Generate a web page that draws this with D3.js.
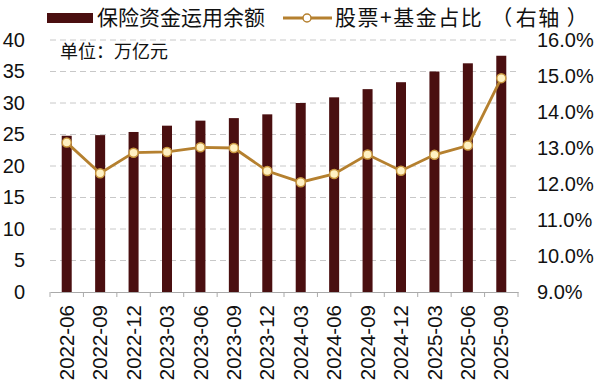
<!DOCTYPE html>
<html>
<head>
<meta charset="utf-8">
<script src="https://cdn.jsdelivr.net/npm/d3@7"></script>
<style>
  body { margin: 0; background: #fff; }
  svg text { font-family: "Liberation Sans", Arial, sans-serif; fill: #111; }
  svg text.cjk { font-family: "Noto Sans CJK SC", sans-serif; }
</style>
</head>
<body>
<svg id="chart" width="600" height="385"></svg>
<script>
// quarters shown on the x axis
var quarters = ["2022-06", "2022-09", "2022-12", "2023-03", "2023-06", "2023-09", "2023-12",
    "2024-03", "2024-06", "2024-09", "2024-12", "2025-03", "2025-06", "2025-09"];
// 保险资金运用余额, 万亿元
var fundBalance = [24.8, 24.9, 25.4, 26.4, 27.2, 27.6, 28.2, 30.0, 30.9, 32.2, 33.3, 35.0, 36.3, 37.5];
// 股票+基金占比, %
var equityShare = [13.15, 12.3, 12.87, 12.89, 13.02, 13.0, 12.36, 12.05, 12.28, 12.82, 12.37, 12.81, 13.07, 14.94];
var leftTicks = [0, 5, 10, 15, 20, 25, 30, 35, 40];
var rightTicks = [9, 10, 11, 12, 13, 14, 15, 16];

var svg = d3.select("#chart");
var plotLeft = 50, plotRight = 518, plotTop = 40, plotBottom = 292;

var x = d3.scaleBand().domain(quarters).range([plotLeft, plotRight]);
var y = d3.scaleLinear().domain([0, 40]).range([plotBottom, plotTop]);
var y2 = d3.scaleLinear().domain([9, 16]).range([plotBottom, plotTop]);

// dashed gridlines
svg.append("g").selectAll("line")
    .data(leftTicks.filter(function (d) { return d > 0; }))
    .enter().append("line")
    .attr("x1", plotLeft).attr("x2", plotRight)
    .attr("y1", function (d) { return y(d); })
    .attr("y2", function (d) { return y(d); })
    .attr("stroke", "#c8c8c8").attr("stroke-width", 1)
    .attr("stroke-dasharray", "6,4");

// left axis labels
var yAxis = d3.axisLeft(y).tickValues(leftTicks).tickSize(0).tickPadding(0);
var gy = svg.append("g").attr("transform", "translate(25,0)").call(yAxis);
gy.select(".domain").remove();
gy.selectAll("text").style("font-size", "20px").attr("fill", "#111");

// right axis labels
var y2Axis = d3.axisRight(y2).tickValues(rightTicks).tickSize(0).tickPadding(0)
    .tickFormat(function (d) { return d.toFixed(1) + "%"; });
var gy2 = svg.append("g").attr("transform", "translate(537,0)").call(y2Axis);
gy2.select(".domain").remove();
gy2.selectAll("text").style("font-size", "20px").attr("fill", "#111");

// bars
svg.append("g").selectAll("rect")
    .data(fundBalance)
    .enter().append("rect")
    .attr("x", function (d, i) { return x(quarters[i]) + x.bandwidth() / 2 - 5; })
    .attr("width", 10)
    .attr("y", function (d) { return y(d); })
    .attr("height", function (d) { return y(0) - y(d); })
    .attr("fill", "#4a0f10");

// x axis
var xAxis = d3.axisBottom(x).tickSize(0).tickPadding(0);
var gx = svg.append("g").attr("transform", "translate(0," + plotBottom + ")").call(xAxis);
gx.select(".domain").attr("stroke", "#aaa");
gx.selectAll("text")
    .style("font-size", "20.5px")
    .attr("fill", "#111")
    .attr("transform", "rotate(-90)")
    .attr("text-anchor", "end")
    .attr("x", -13)
    .attr("y", 0)
    .attr("dy", "0.35em");
// tick marks at category boundaries
svg.append("g").selectAll("line")
    .data(d3.range(quarters.length + 1))
    .enter().append("line")
    .attr("x1", function (i) { return plotLeft + i * x.step(); })
    .attr("x2", function (i) { return plotLeft + i * x.step(); })
    .attr("y1", plotBottom).attr("y2", plotBottom + 5)
    .attr("stroke", "#aaa");

// share line
var line = d3.line()
    .x(function (d, i) { return x(quarters[i]) + x.bandwidth() / 2; })
    .y(function (d) { return y2(d); });
svg.append("path").datum(equityShare)
    .attr("d", line)
    .attr("fill", "none")
    .attr("stroke", "#b5802f")
    .attr("stroke-width", 2.8);
svg.append("g").selectAll("circle")
    .data(equityShare)
    .enter().append("circle")
    .attr("cx", function (d, i) { return x(quarters[i]) + x.bandwidth() / 2; })
    .attr("cy", function (d) { return y2(d); })
    .attr("r", 4.5)
    .attr("fill", "#fff1c2")
    .attr("stroke", "#c8963e")
    .attr("stroke-width", 1.5);

// legend
svg.append("rect").attr("x", 47).attr("y", 13).attr("width", 46).attr("height", 10).attr("fill", "#4a0f10");
svg.append("text").attr("class", "cjk").attr("x", 97).attr("y", 18).attr("dy", "0.35em")
    .style("font-size", "21px").text("保险资金运用余额");
svg.append("line").attr("x1", 283).attr("x2", 332).attr("y1", 18).attr("y2", 18)
    .attr("stroke", "#b5802f").attr("stroke-width", 3);
svg.append("circle").attr("cx", 307).attr("cy", 18).attr("r", 4)
    .attr("fill", "#fff").attr("stroke", "#b5802f").attr("stroke-width", 1.5);
var leg2 = svg.append("text").attr("class", "cjk").attr("x", 335).attr("y", 18).attr("dy", "0.35em")
    .style("font-size", "21px").style("letter-spacing", "1.5px");
leg2.append("tspan").text("股票+基金占比");
leg2.append("tspan").attr("dx", 8).text("（");
leg2.append("tspan").attr("dx", 2).text("右轴");
leg2.append("tspan").attr("dx", 6).text("）");

svg.append("text").attr("class", "cjk").attr("x", 60).attr("y", 52).attr("dy", "0.35em")
    .style("font-size", "18px").text("单位：万亿元");
</script>
</body>
</html>
